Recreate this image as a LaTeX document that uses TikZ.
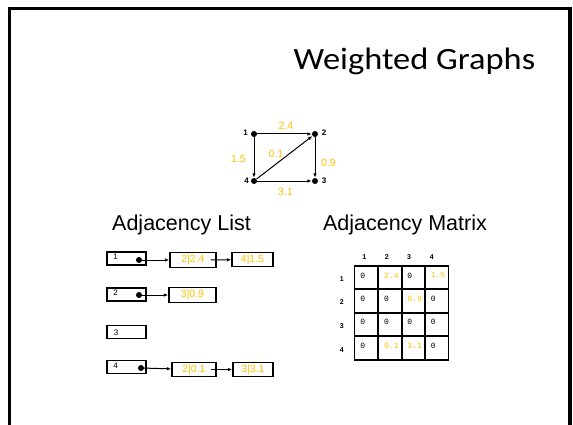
\documentclass[tikz,border=0pt]{standalone}
\usepackage{fontspec}
\setmainfont{Liberation Sans}
\newfontfamily\titlefont{Carlito}
\newfontfamily\cellfont{Liberation Mono}
\usetikzlibrary{arrows.meta}
\definecolor{gold}{HTML}{FFC000}
\begin{document}
\begin{tikzpicture}[x=1pt,y=-1pt,
  vertex/.style={circle,fill=black,inner sep=0pt,minimum size=6pt},
  vlab/.style={font=\fontsize{8}{8}\selectfont\bfseries,inner sep=0pt},
  wlab/.style={text=gold,font=\fontsize{10.5}{10.5}\selectfont,inner sep=0pt},
  edge/.style={line width=1pt,-{Latex[length=4.5pt,width=3.5pt]}},
  heading/.style={font=\fontsize{21.5}{21.5}\selectfont,inner sep=0pt,anchor=base},
  headbox/.style={draw,line width=1.3pt,rectangle,minimum width=39pt,minimum height=13pt,inner sep=0pt},
  valbox/.style={draw,line width=1.3pt,rectangle,minimum height=14.5pt,inner sep=0pt,text=gold,font=\fontsize{10.5}{10.5}\selectfont},
  hlab/.style={font=\fontsize{8}{8}\selectfont,inner sep=0pt},
  cellbox/.style={draw,line width=1.6pt,rectangle,minimum width=23.5pt,minimum height=23.5pt,inner sep=0pt},
  cval/.style={font=\cellfont\fontsize{8}{8}\selectfont,inner sep=0pt,anchor=north west},
  mhead/.style={font=\fontsize{7}{7}\selectfont\bfseries,inner sep=0pt}
]
\useasboundingbox (0,0) rectangle (573,425);
% frame
\draw[line width=3.5pt] (9.5,430) -- (9.5,8.5) -- (570,8.5) -- (570,430);
% title
\node[anchor=base west,inner sep=0pt,font=\titlefont\fontsize{31}{31}\selectfont] (title) at (293.5,69.5) {\scalebox{1.11}[1]{Weighted Graphs}};

% graph
\node[vertex] (n1) at (254,134) {};
\node[vertex] (n2) at (315,134) {};
\node[vertex] (n3) at (315,181) {};
\node[vertex] (n4) at (254,181) {};
\node[vlab] (l1) at (245.5,133) {1};
\node[vlab] (l2) at (324,133) {2};
\node[vlab] (l3) at (324,181) {3};
\node[vlab] (l4) at (246.5,181) {4};
\draw[edge] (n1) -- (n2);
\draw[edge] (n1) -- (n4);
\draw[edge] (n2) -- (n3);
\draw[edge] (n4) -- (n3);
\draw[edge] (n4) -- (n2);
\node[wlab] (w12) at (286,125.5) {2.4};
\node[wlab] (w14) at (238.5,158.5) {1.5};
\node[wlab] (w42) at (276,154) {0.1};
\node[wlab] (w23) at (328.5,163) {0.9};
\node[wlab] (w43) at (285.5,192) {3.1};

% headings
\node[heading] (hl) at (181.5,230) {Adjacency List};
\node[heading] (hm) at (405,230) {Adjacency Matrix};

% adjacency list
\node[headbox] (h1) at (126.5,258.5) {};
\node[headbox] (h2) at (126.5,294.5) {};
\node[headbox] (h3) at (126.5,332) {};
\node[headbox] (h4) at (126.5,367) {};
\node[hlab] (t1) at (115.5,256.5) {1};
\node[hlab] (t2) at (115.5,293) {2};
\node[hlab] (t3) at (116,333) {3};
\node[hlab] (t4) at (115.5,365.5) {4};
\node[vertex] (d1) at (139,260) {};
\node[vertex] (d2) at (139,295) {};
\node[vertex] (d4) at (141,368) {};
\node[valbox,minimum width=46pt] (a1) at (193,260) {2|2.4};
\node[valbox,minimum width=41pt] (b1) at (252.5,259.5) {4|1.5};
\node[valbox,minimum width=47pt] (a2) at (192.5,295) {3|0.9};
\node[valbox,minimum width=44pt] (a4) at (194,369.5) {2|0.1};
\node[valbox,minimum width=40pt] (b4) at (253,369.5) {3|3.1};
\coordinate (a1o) at ([xshift=-6pt]a1.east);
\coordinate (a4o) at ([xshift=-6pt]a4.east);
\draw[edge] (d1.center) -- (a1);
\draw[edge] (a1o) -- (b1);
\draw[edge] (d2.center) -- (a2);
\draw[edge] (d4.center) -- (a4);
\draw[edge] (a4o) -- (b4);

% adjacency matrix
\foreach \c/\x in {1/366.3,2/390,3/413.3,4/436.7}{
  \foreach \r/\y in {1/277.5,2/301,3/324.3,4/348}{
    \node[cellbox] (m\r\c) at (\x,\y) {};
  }
}
\foreach \c/\x in {1/364.3,2/386.7,3/409,4/431.7}{
  \node[mhead] (ch\c) at (\x,256.7) {\c};
}
\foreach \r/\y in {1/279,2/302.5,3/326,4/350}{
  \node[mhead] (rh\r) at (341.7,\y) {\r};
}
\foreach \r/\c/\v/\col in {1/1/0/black,1/2/2.4/gold,1/3/0/black,1/4/1.5/gold,
  2/1/0/black,2/2/0/black,2/3/0.9/gold,2/4/0/black,
  3/1/0/black,3/2/0/black,3/3/0/black,3/4/0/black,
  4/1/0/black,4/2/0.1/gold,4/3/3.1/gold,4/4/0/black}{
  \node[cval,text=\col] at ([shift={(6.5pt,-7.5pt)}]m\r\c.north west) {\v};
}
\end{tikzpicture}
\end{document}
